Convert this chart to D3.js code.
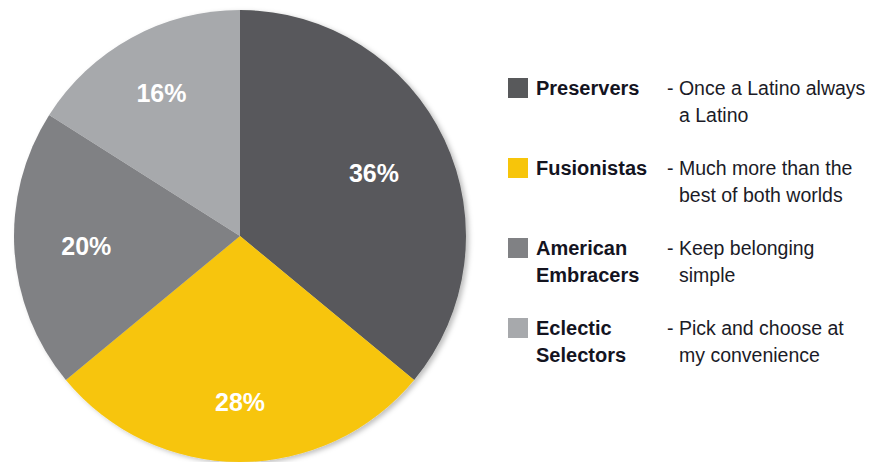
<!DOCTYPE html>
<html>
<head>
<meta charset="utf-8">
<script src="https://cdn.jsdelivr.net/npm/d3@7"></script>
<style>
  body { margin: 0; background: #fff; }
  svg { display: block; }
</style>
</head>
<body>
<div id="chart"></div>
<script>
// data
var segments = ["Preservers", "Fusionistas", "American Embracers", "Eclectic Selectors"];
var shares = [36, 28, 20, 16];
var nameLines = [["Preservers"], ["Fusionistas"], ["American", "Embracers"], ["Eclectic", "Selectors"]];
var descLines = [["- Once a Latino always", "a Latino"],
                 ["- Much more than the", "best of both worlds"],
                 ["- Keep belonging", "simple"],
                 ["- Pick and choose at", "my convenience"]];

var width = 880, height = 462;
var cx = 240, cy = 236, radius = 226;
// label distance from centre, per slice
var labelR = [148, 166, 154, 163];

var color = d3.scaleOrdinal()
  .domain(segments)
  .range(["#58595b", "#f7c50a", "#808184", "#a7a9ac"]);

var svg = d3.select("#chart")
  .append("svg")
  .attr("width", width)
  .attr("height", height);

var defs = svg.append("defs");
defs.append("filter")
  .attr("id", "shadow")
  .attr("x", "-10%").attr("y", "-10%")
  .attr("width", "120%").attr("height", "120%")
  .append("feDropShadow")
  .attr("dx", 3).attr("dy", 2)
  .attr("stdDeviation", 2.5)
  .attr("flood-color", "#000")
  .attr("flood-opacity", 0.25);

var pie = d3.pie().sort(null).value(function(d) { return d; });
var arc = d3.arc().innerRadius(0).outerRadius(radius);

var arcs = pie(shares);

var g = svg.append("g")
  .attr("transform", "translate(" + cx + "," + cy + ")");

g.append("g")
  .attr("filter", "url(#shadow)")
  .selectAll("path")
  .data(arcs)
  .enter().append("path")
  .attr("d", arc)
  .attr("fill", function(d, i) { return color(segments[i]); });

// percentage labels
g.selectAll("text.pct")
  .data(arcs)
  .enter().append("text")
  .attr("class", "pct")
  .attr("transform", function(d, i) {
    var a = (d.startAngle + d.endAngle) / 2;
    return "translate(" + (Math.sin(a) * labelR[i]) + "," + (-Math.cos(a) * labelR[i]) + ")";
  })
  .attr("dy", "0.36em")
  .attr("text-anchor", "middle")
  .attr("font-family", "Liberation Sans, Arial, sans-serif")
  .attr("font-weight", "bold")
  .attr("font-size", 25)
  .attr("fill", "#fff")
  .text(function(d) { return d.value + "%"; });

// legend
var legend = svg.append("g")
  .selectAll("g")
  .data(segments)
  .enter().append("g")
  .attr("transform", function(d, i) { return "translate(508," + (78 + i * 80) + ")"; });

legend.append("rect")
  .attr("width", 20)
  .attr("height", 20)
  .attr("fill", function(d) { return color(d); });

legend.each(function(d, i) {
  var item = d3.select(this);
  var name = item.append("text")
    .attr("font-family", "Liberation Sans, Arial, sans-serif")
    .attr("font-weight", "bold")
    .attr("font-size", 20)
    .attr("fill", "#14141f");
  nameLines[i].forEach(function(line, j) {
    name.append("tspan")
      .attr("x", 28)
      .attr("y", 17 + j * 26.5)
      .text(line);
  });
  var desc = item.append("text")
    .attr("font-family", "Liberation Sans, Arial, sans-serif")
    .attr("font-size", 19.5)
    .attr("fill", "#1b1b27");
  descLines[i].forEach(function(line, j) {
    desc.append("tspan")
      .attr("x", j === 0 ? 159 : 171)
      .attr("y", 17 + j * 26.5)
      .text(line);
  });
});
</script>
</body>
</html>
